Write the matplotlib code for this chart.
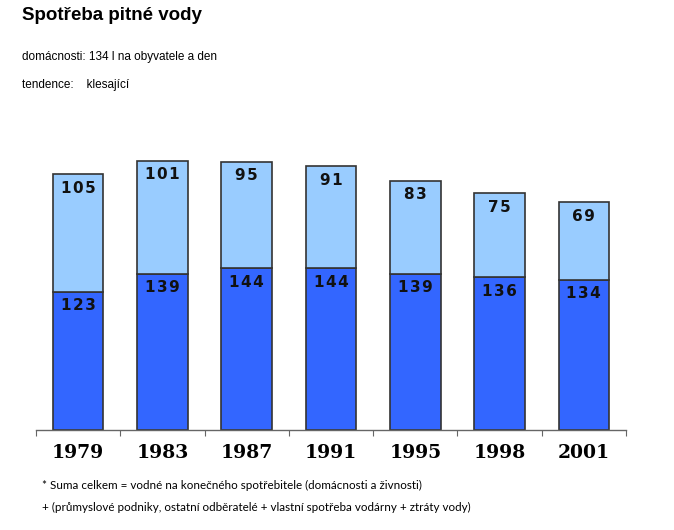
import matplotlib
matplotlib.use("Agg")
import matplotlib.pyplot as plt
import numpy as np

years = ["1979", "1983", "1987", "1991", "1995", "1998", "2001"]
households = [123, 139, 144, 144, 139, 136, 134]
other = [105, 101, 95, 91, 83, 75, 69]

W, H = 674, 530
fig = plt.figure(figsize=(W / 100, H / 100), dpi=100)

ax_left, ax_right = 36, 626
ax_bottom, ax_top = 430, 150
ax = fig.add_axes([ax_left / W, 1 - ax_bottom / H, (ax_right - ax_left) / W, (ax_bottom - ax_top) / H])

x = np.arange(len(years))
width = 0.6
dark = "#3366FF"
light = "#99CCFF"
edge = "#333333"

ax.bar(x, households, width, color=dark, edgecolor=edge, linewidth=1.2)
ax.bar(x, other, width, bottom=households, color=light, edgecolor=edge, linewidth=1.2)

def spaced(v):
    return "\u200a".join(str(v))

for xi, h, o in zip(x, households, other):
    for base, val in ((h, h), (h + o, o)):
        ax.annotate(spaced(val), (xi, base), xytext=(0, -10), textcoords="offset points",
                    ha="center", va="center", fontsize=11, fontweight="bold",
                    family="DejaVu Sans", color="#111111")

ax.set_xlim(-0.5, len(years) - 0.5)
ax.set_ylim(0, (ax_bottom - ax_top) / 1.122)
for s in ("left", "right", "top"):
    ax.spines[s].set_visible(False)
ax.spines["bottom"].set_color("#666666")
ax.spines["bottom"].set_linewidth(1.0)
ax.set_yticks([])
ax.set_xticks(np.arange(len(years) + 1) - 0.5)
ax.set_xticklabels([])
ax.set_xticks(x, minor=True)
ax.set_xticklabels(years, minor=True, fontsize=13.5, fontweight="bold", family="DejaVu Serif")
ax.tick_params(axis="x", which="major", length=4, color="#666666", direction="out")
ax.tick_params(axis="x", which="minor", length=0, pad=10)

fig.text(22 / W, 1 - 16 / H, "Spotřeba pitné vody", fontsize=13.5, fontweight="bold",
         family="Liberation Sans", va="center", ha="left")
fig.text(22 / W, 1 - 57 / H, "domácnosti: 134 l na obyvatele a den", fontsize=8.5,
         family="Liberation Sans", va="center", ha="left")
fig.text(22 / W, 1 - 85 / H, "tendence:    klesající", fontsize=8.5,
         family="Liberation Sans", va="center", ha="left")

foot1 = fig.text(42 / W, 1 - 485 / H, "* Suma celkem = vodné na konečného spotřebitele (domácnosti a živnosti)",
                 fontsize=9, family="Lato", va="center", ha="left")
foot2 = fig.text(42 / W, 1 - 507 / H, "+ (průmyslové podniky, ostatní odběratelé + vlastní spotřeba vodárny + ztráty vody)",
                 fontsize=9, family="Lato", va="center", ha="left")

# fit footnote size so that the second line spans about 428 px like the reference
renderer = fig.canvas.get_renderer()
w2 = foot2.get_window_extent(renderer).width
size = 9 * 428 / w2
foot1.set_fontsize(size)
foot2.set_fontsize(size)

fig.savefig("out.png", dpi=100)
